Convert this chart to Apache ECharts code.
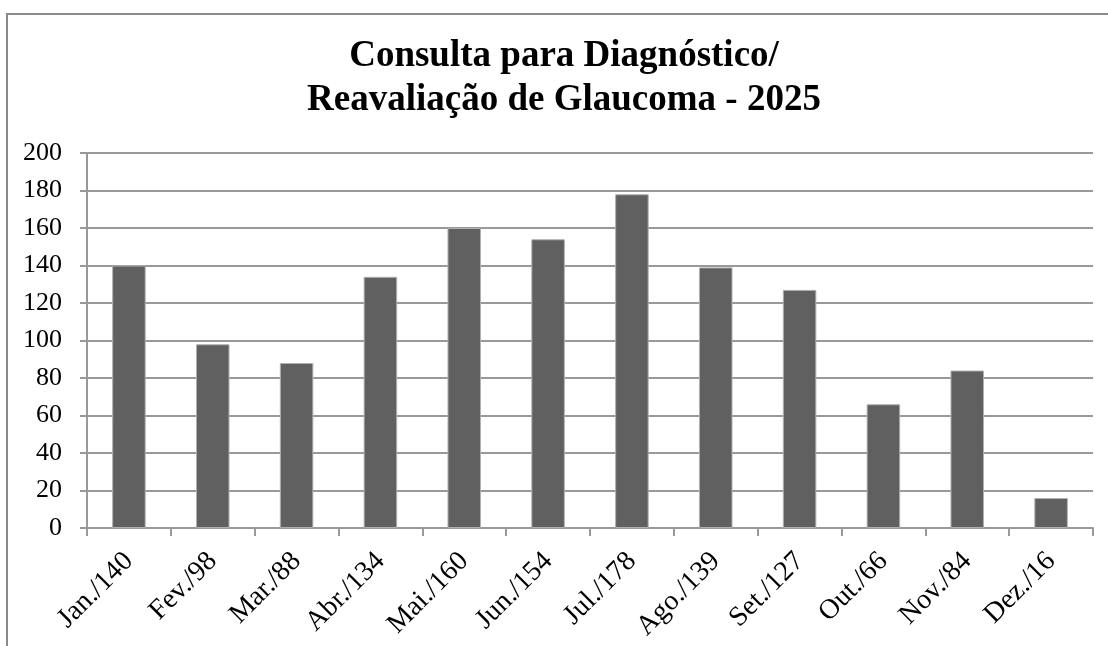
<!DOCTYPE html>
<html>
<head>
<meta charset="utf-8">
<script src="https://cdn.jsdelivr.net/npm/echarts@6/dist/echarts.min.js"></script>
<style>
html,body{margin:0;padding:0;background:#fff;}
#chart{width:1108px;height:646px;}
</style>
</head>
<body>
<div id="chart"></div>
<script>
const titleText = 'Consulta para Diagnóstico/\nReavaliação de Glaucoma - 2025';
const categories = ['Jan./140','Fev./98','Mar./88','Abr./134','Mai./160','Jun./154','Jul./178','Ago./139','Set./127','Out./66','Nov./84','Dez./16'];
const values = [140, 98, 88, 134, 160, 154, 178, 139, 127, 66, 84, 16];
const yTicks = [0, 20, 40, 60, 80, 100, 120, 140, 160, 180, 200];

const serif = "'Liberation Serif', 'Times New Roman', serif";
const chart = echarts.init(document.getElementById('chart'));
chart.setOption({
  animation: false,
  backgroundColor: '#fff',
  graphic: [{
    type: 'rect',
    shape: {x: 7, y: 14, width: 1300, height: 800},
    style: {fill: 'none', stroke: '#8a8a8a', lineWidth: 2},
    silent: true
  }],
  title: {
    text: titleText,
    left: 564,
    textAlign: 'center',
    top: 34,
    padding: 0,
    textStyle: {fontFamily: serif, fontWeight: 'bold', fontSize: 37, lineHeight: 44, color: '#000'}
  },
  grid: {left: 87, right: 15, top: 153, bottom: 118, containLabel: false},
  xAxis: {
    type: 'category',
    data: categories,
    axisLine: {show: true, lineStyle: {color: '#999', width: 2}},
    axisTick: {show: true, length: 8, lineStyle: {color: '#999', width: 2}},
    axisLabel: {rotate: 45, margin: 29, fontFamily: serif, fontSize: 28, color: '#000', interval: 0}
  },
  yAxis: {
    type: 'value',
    min: yTicks[0],
    max: yTicks[yTicks.length - 1],
    interval: 20,
    axisLine: {show: true, lineStyle: {color: '#999', width: 2}},
    axisTick: {show: true, length: 7, lineStyle: {color: '#999', width: 2}},
    axisLabel: {margin: 25, fontFamily: serif, fontSize: 26, color: '#000'},
    splitLine: {show: true, lineStyle: {color: '#999', width: 2}}
  },
  series: [{
    type: 'bar',
    data: values,
    barWidth: '40%',
    itemStyle: {color: '#606060', borderColor: '#b0b0b0', borderWidth: 1}
  }]
});
</script>
</body>
</html>
